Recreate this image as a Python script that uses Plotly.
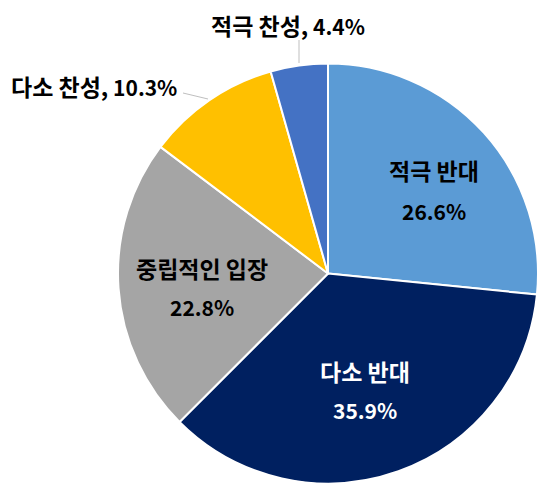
import plotly.graph_objects as go

labels = ["적극 반대", "다소 반대", "중립적인 입장", "다소 찬성", "적극 찬성"]
values = [26.6, 35.9, 22.8, 10.3, 4.4]
colors = ["#5B9BD5", "#002060", "#A5A5A5", "#FFC000", "#4472C4"]

W, H = 546, 488
OFF = 8  # the page body adds an 8px margin
FONT = "Noto Sans CJK KR"

def px(x, y):
    return (x - OFF) / W, 1 - (y - OFF) / H

def hangul(t):
    # Korean glyphs in the original are drawn a bit larger than the digits
    return f'<span style="font-size:23px">{t}</span>'

dx0, dy0 = px(118, 484)
dx1, dy1 = px(538, 63)

fig = go.Figure(go.Pie(
    labels=labels,
    values=values,
    sort=False,
    direction="clockwise",
    rotation=0,
    marker=dict(colors=colors, line=dict(color="white", width=2)),
    textinfo="none",
    hoverinfo="label+percent",
    domain=dict(x=[dx0, dx1], y=[dy0, dy1]),
    showlegend=False,
))

# inside labels: name and value on two lines
inside = [
    (0, 434, 170, 211, "black"),
    (1, 365, 371, 410, "white"),
    (2, 202, 268, 307, "black"),
]
for i, x, y1, y2, c in inside:
    for y, t in [(y1, hangul(labels[i])), (y2, f"{values[i]}%")]:
        ax_, ay_ = px(x, y)
        fig.add_annotation(x=ax_, y=ay_, xref="paper", yref="paper", text=f"<b>{t}</b>",
                           xanchor="center", yanchor="middle", showarrow=False, borderpad=0,
                           font=dict(family=FONT, size=21, color=c))

# outside labels with leader lines
outside = [
    (3, 94, 86, (183, 93), (208, 99)),
    (4, 288, 25, (299, 40), (299, 63)),
]
for i, x, y, p0, p1 in outside:
    ax_, ay_ = px(x, y)
    fig.add_annotation(x=ax_, y=ay_, xref="paper", yref="paper",
                       text=f"<b>{hangul(labels[i] + ',')} {values[i]}%</b>",
                       xanchor="center", yanchor="middle", showarrow=False, borderpad=0,
                       font=dict(family=FONT, size=21, color="black"))
    x0, y0 = px(*p0)
    x1, y1 = px(*p1)
    fig.add_shape(type="line", xref="paper", yref="paper", x0=x0, y0=y0, x1=x1, y1=y1,
                  line=dict(color="#BFBFBF", width=1))

fig.update_layout(
    width=W, height=H,
    margin=dict(l=0, r=0, t=0, b=0),
    paper_bgcolor="white",
    plot_bgcolor="white",
)

fig.write_html("out.html")
